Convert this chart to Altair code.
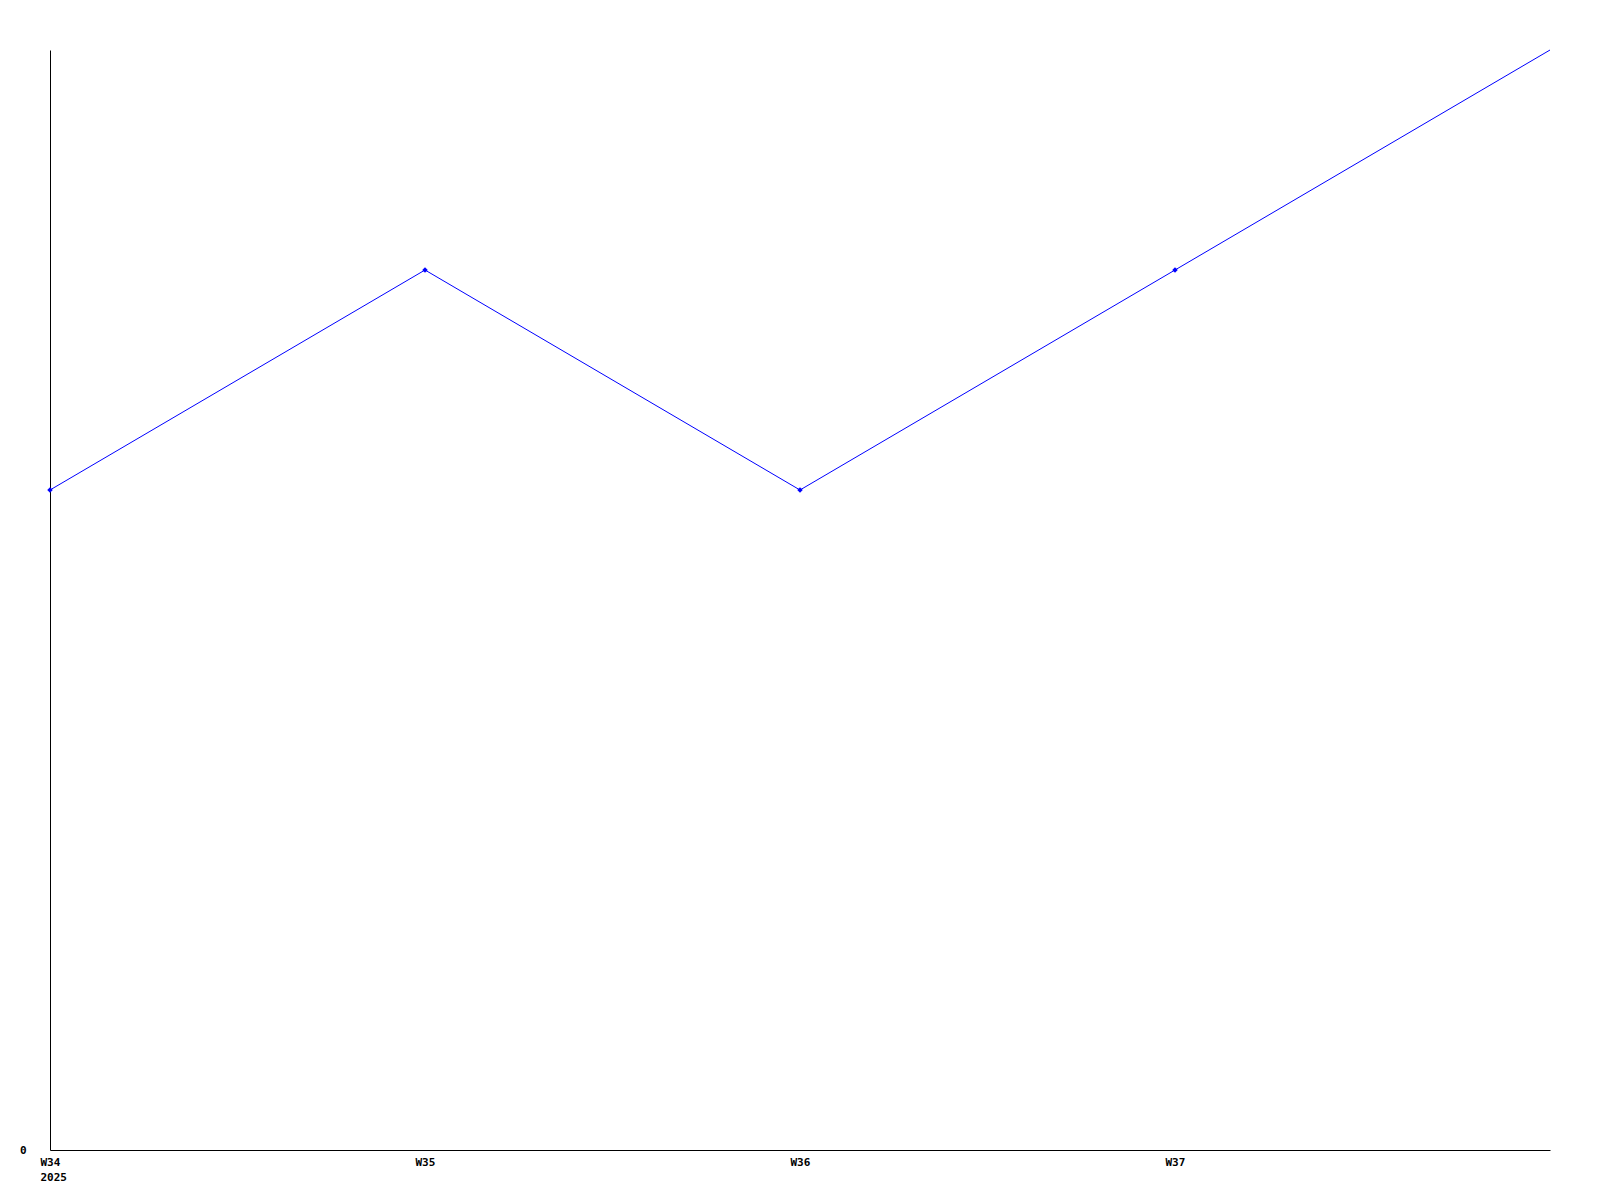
import altair as alt
import pandas as pd

weeks = [34, 35, 36, 37, 38]
values = [3, 4, 3, 4, 5]
year_label = "2025"

df = pd.DataFrame({"week": weeks, "value": values})

FONT = "DejaVu Sans Mono"

x_enc = alt.X(
    "week:Q",
    scale=alt.Scale(domain=[34, 38], nice=False, zero=False),
    axis=alt.Axis(
        values=[34, 35, 36, 37],
        labelExpr=f"datum.value == 34 ? ['W' + datum.value, '{year_label}'] : 'W' + datum.value",
        ticks=False,
        grid=False,
        domainColor="black",
        domainWidth=1,
        labelFont=FONT,
        labelFontWeight="bold",
        labelFontSize=11,
        labelColor="black",
        labelAlign="left",
        labelOffset=-10,
        labelPadding=6,
        labelLineHeight=15,
        labelFlush=False,
        title=None,
    ),
)
y_enc = alt.Y(
    "value:Q",
    scale=alt.Scale(domain=[0, 5], nice=False),
    axis=alt.Axis(
        values=[0],
        ticks=False,
        grid=False,
        domainColor="black",
        domainWidth=1,
        labelFont=FONT,
        labelFontWeight="bold",
        labelFontSize=11,
        labelColor="black",
        labelPadding=24,
        labelFlush=False,
        title=None,
    ),
)

line = alt.Chart(df).mark_line(color="#0000ff", strokeWidth=1).encode(x=x_enc, y=y_enc)
pts = alt.Chart(df).transform_filter("datum.week < 38").mark_point(
    shape="diamond", filled=True, color="#0000ff", size=30, opacity=1
).encode(x=x_enc, y=y_enc)

chart = (
    alt.layer(line, pts)
    .properties(
        width=1500,
        height=1100,
        autosize=alt.AutoSizeParams(type="none"),
        padding={"left": 42, "top": 42, "right": 30, "bottom": 40},
        view=alt.ViewBackground(stroke="transparent", strokeWidth=0, strokeOpacity=0),
    )
    .configure_view(strokeWidth=0, stroke="transparent", strokeOpacity=0)
    .configure(background="white")
)

chart.save("out.html", embed_options={"renderer": "svg", "actions": False})
